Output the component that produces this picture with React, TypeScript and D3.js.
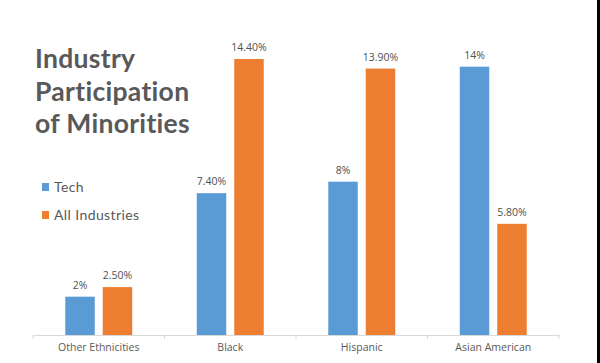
import React, { useRef, useEffect } from "react";
import * as d3 from "d3";

const categories = ["Other Ethnicities", "Black", "Hispanic", "Asian American"];
const seriesNames = ["Tech", "All Industries"];
const techValues = [2, 7.4, 8, 14];
const allIndustriesValues = [2.5, 14.4, 13.9, 5.8];
const techLabels = ["2%", "7.40%", "8%", "14%"];
const allIndustriesLabels = ["2.50%", "14.40%", "13.90%", "5.80%"];
const titleLines = ["Industry", "Participation", "of Minorities"];

const W = 600;
const H = 363;
const colors = ["#5B9BD5", "#ED7D31"];

const App = () => {
  const svgRef = useRef<SVGSVGElement>(null);

  useEffect(() => {
    const svg = d3.select(svgRef.current);
    svg.selectAll("*").remove();

    const baseY = 335;
    const x = d3.scaleBand().domain(categories).range([33, 559]).padding(0);
    const xSub = d3
      .scaleBand()
      .domain(seriesNames)
      .range([0, x.bandwidth()])
      .paddingInner(0.213)
      .paddingOuter(0.861);
    const y = d3.scaleLinear().domain([0, 14.4]).range([baseY, 59]);

    const rows = categories.map((c, i) => ({
      cat: c,
      items: [
        { key: seriesNames[0], value: techValues[i], label: techLabels[i] },
        { key: seriesNames[1], value: allIndustriesValues[i], label: allIndustriesLabels[i] },
      ],
    }));

    // baseline + tick marks
    const axis = svg.append("g").attr("transform", `translate(0, ${baseY})`);
    axis
      .call(
        d3
          .axisBottom(x)
          .tickSize(0)
          .tickPadding(9)
      )
      .select(".domain")
      .attr("stroke", "#d9d9d9");
    axis
      .selectAll(".tick text")
      .attr("fill", "#595959")
      .style("font-family", "'Open Sans', sans-serif")
      .style("font-size", "10.5px");
    const edges = categories.map((c) => x(c) as number).concat([559]);
    axis
      .selectAll("line.edge")
      .data(edges)
      .join("line")
      .attr("class", "edge")
      .attr("x1", (d) => d)
      .attr("x2", (d) => d)
      .attr("y1", 0)
      .attr("y2", 4)
      .attr("stroke", "#d9d9d9");

    const groups = svg
      .append("g")
      .selectAll("g")
      .data(rows)
      .join("g")
      .attr("transform", (d) => `translate(${x(d.cat)}, 0)`);

    groups
      .selectAll("rect")
      .data((d) => d.items)
      .join("rect")
      .attr("x", (d) => xSub(d.key) as number)
      .attr("y", (d) => y(d.value))
      .attr("width", xSub.bandwidth())
      .attr("height", (d) => baseY - y(d.value))
      .attr("fill", (d, i) => colors[i]);

    groups
      .selectAll("text")
      .data((d) => d.items)
      .join("text")
      .attr("x", (d) => (xSub(d.key) as number) + xSub.bandwidth() / 2)
      .attr("y", (d) => y(d.value) - 8)
      .attr("text-anchor", "middle")
      .attr("fill", "#505050")
      .style("font-family", "'Open Sans', sans-serif")
      .style("font-size", "10.5px")
      .text((d) => d.label);

    // title
    svg
      .append("g")
      .selectAll("text")
      .data(titleLines)
      .join("text")
      .attr("x", 35)
      .attr("y", (d, i) => 68 + i * 32.5)
      .attr("fill", "#595959")
      .style("font-family", "Lato, sans-serif")
      .style("font-weight", "bold")
      .style("font-size", "26.5px")
      .style("letter-spacing", "0.3px")
      .style("font-variant-ligatures", "none")
      .text((d) => d);

    // legend
    const legend = svg
      .append("g")
      .selectAll("g")
      .data(seriesNames)
      .join("g")
      .attr("transform", (d, i) => `translate(42, ${192 + i * 28})`);
    legend
      .append("rect")
      .attr("x", 0)
      .attr("y", -9)
      .attr("width", 7)
      .attr("height", 8)
      .attr("fill", (d, i) => colors[i]);
    legend
      .append("text")
      .attr("x", 12)
      .attr("y", 0)
      .attr("fill", "#595959")
      .style("font-family", "Lato, sans-serif")
      .style("font-size", "14px")
      .style("letter-spacing", "0.4px")
      .text((d) => d);

    // dark strip at the right edge
    svg
      .append("rect")
      .attr("x", 597)
      .attr("y", 0)
      .attr("width", 3)
      .attr("height", H)
      .attr("fill", "#000");
  }, []);

  return (
    <div style={{ width: W, height: H, background: "#fff" }}>
      <style>{"body{margin:0}"}</style>
      <svg ref={svgRef} width={W} height={H} style={{ display: "block" }}></svg>
    </div>
  );
};

export default App;
